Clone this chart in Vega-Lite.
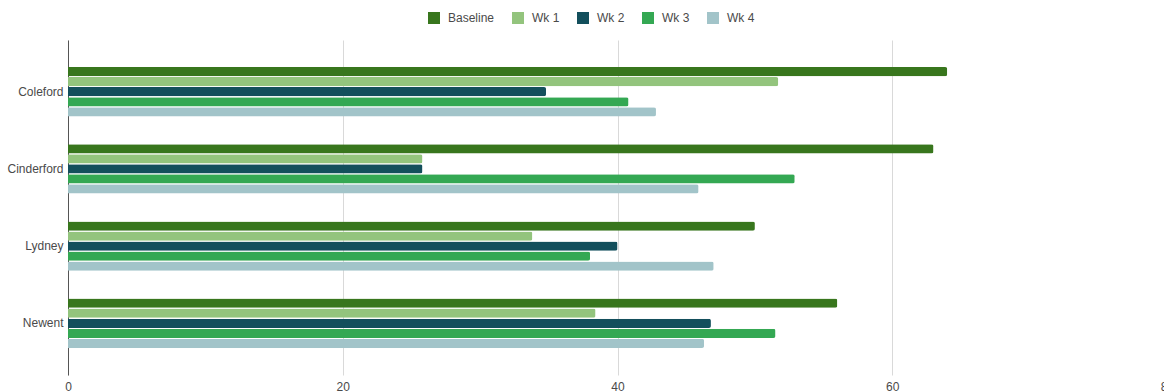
{
  "$schema": "https://vega.github.io/schema/vega-lite/v6.json",
  "autosize": {"type": "none"},
  "padding": {"left": 68, "top": 40, "right": 0, "bottom": 17},
  "width": 1099,
  "height": 335,
  "background": "#ffffff",
  "config": {
    "view": {"stroke": null},
    "font": "Liberation Sans",
    "axis": {"labelFont": "Liberation Sans", "labelFontSize": 12, "labelColor": "#4a4a4a"},
    "legend": {"labelFont": "Liberation Sans", "labelFontSize": 12, "labelColor": "#4a4a4a"}
  },
  "data": {
    "values": [
      {"town": "Coleford", "series": "Baseline", "value": 64.0},
      {"town": "Coleford", "series": "Wk 1", "value": 51.7},
      {"town": "Coleford", "series": "Wk 2", "value": 34.8},
      {"town": "Coleford", "series": "Wk 3", "value": 40.8},
      {"town": "Coleford", "series": "Wk 4", "value": 42.8},
      {"town": "Cinderford", "series": "Baseline", "value": 63.0},
      {"town": "Cinderford", "series": "Wk 1", "value": 25.8},
      {"town": "Cinderford", "series": "Wk 2", "value": 25.8},
      {"town": "Cinderford", "series": "Wk 3", "value": 52.9},
      {"town": "Cinderford", "series": "Wk 4", "value": 45.9},
      {"town": "Lydney", "series": "Baseline", "value": 50.0},
      {"town": "Lydney", "series": "Wk 1", "value": 33.8},
      {"town": "Lydney", "series": "Wk 2", "value": 40.0},
      {"town": "Lydney", "series": "Wk 3", "value": 38.0},
      {"town": "Lydney", "series": "Wk 4", "value": 47.0},
      {"town": "Newent", "series": "Baseline", "value": 56.0},
      {"town": "Newent", "series": "Wk 1", "value": 38.4},
      {"town": "Newent", "series": "Wk 2", "value": 46.8},
      {"town": "Newent", "series": "Wk 3", "value": 51.5},
      {"town": "Newent", "series": "Wk 4", "value": 46.3}
    ]
  },
  "mark": {"type": "bar", "cornerRadiusEnd": 2},
  "encoding": {
    "y": {
      "field": "town",
      "type": "nominal",
      "sort": null,
      "title": null,
      "scale": {"paddingInner": 0.36, "paddingOuter": 0.35},
      "axis": {"domain": true, "domainColor": "#555555", "domainWidth": 1, "ticks": false, "labelPadding": 5}
    },
    "yOffset": {
      "field": "series",
      "type": "nominal",
      "sort": ["Baseline", "Wk 1", "Wk 2", "Wk 3", "Wk 4"],
      "scale": {"paddingInner": 0.08}
    },
    "x": {
      "field": "value",
      "type": "quantitative",
      "title": null,
      "scale": {"domain": [0, 80], "nice": false},
      "axis": {"values": [0, 20, 40, 60, 80], "domain": false, "ticks": false, "grid": true, "gridColor": "#d9d9d9", "labelPadding": 6, "labelFlush": false, "labelOverlap": false}
    },
    "color": {
      "field": "series",
      "type": "nominal",
      "sort": ["Baseline", "Wk 1", "Wk 2", "Wk 3", "Wk 4"],
      "scale": {
        "domain": ["Baseline", "Wk 1", "Wk 2", "Wk 3", "Wk 4"],
        "range": ["#38761d", "#93c47d", "#134f5c", "#34a853", "#a2c4c9"]
      },
      "legend": {
        "title": null,
        "orient": "none",
        "direction": "horizontal",
        "legendX": 360,
        "legendY": -28,
        "symbolType": "square",
        "symbolSize": 144,
        "symbolStrokeWidth": 0,
        "labelOffset": 8,
        "columnPadding": 17
      }
    }
  }
}
